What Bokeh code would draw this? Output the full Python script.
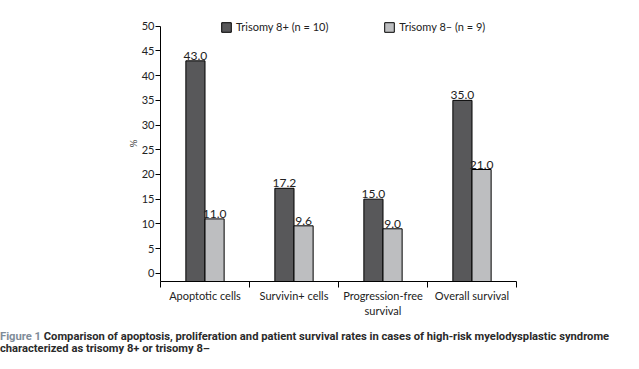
from bokeh.plotting import figure
from bokeh.models import (ColumnDataSource, FixedTicker, Legend, LegendItem, Div,
                          Range1d)
from bokeh.layouts import column
from bokeh.core.properties import value
from bokeh.embed import file_html
from bokeh.resources import INLINE

# ---- data ----
categories = ["Apoptotic cells", "Survivin+ cells", "Progression-free\nsurvival", "Overall survival"]
trisomy_pos = [43.0, 17.2, 15.0, 35.0]
trisomy_neg = [11.0, 9.6, 9.0, 21.0]
series_labels = ["Trisomy 8+ (n = 10)", "Trisomy 8\u2013 (n = 9)"]
y_ticks = [0, 5, 10, 15, 20, 25, 30, 35, 40, 45, 50]
caption_label = "Figure 1"
caption_lines = ["Comparison of apoptosis, proliferation and patient survival rates in cases of high-risk myelodysplastic syndrome",
                 "characterized as trisomy 8+ or trisomy 8\u2013"]

Y_MIN = -1.67
Y_AXIS_MAX = 50
Y_MAX = 54.2
BAR_W = 0.215
FONT = "Lato"
CAP_FONT = "Roboto"
DARK = "#58585a"
LIGHT = "#bdbec0"

n = len(categories)
centers = [i + 0.5 for i in range(n)]
src = ColumnDataSource(dict(
    xp=[c - BAR_W / 2 for c in centers],
    xn=[c + BAR_W / 2 for c in centers],
    pos=trisomy_pos, neg=trisomy_neg,
    pos_lbl=[f"{v:.1f}" for v in trisomy_pos],
    neg_lbl=[f"{v:.1f}" for v in trisomy_neg],
))

p = figure(width=623, height=329, output_backend="svg", toolbar_location=None,
           x_range=Range1d(0, n), y_range=Range1d(Y_MIN, Y_MAX),
           min_border_left=160, min_border_right=107, min_border_top=5,
           min_border_bottom=48)
p.outline_line_color = None
p.grid.grid_line_color = None
p.background_fill_color = "white"

r1 = p.vbar(x="xp", top="pos", bottom=Y_MIN, width=BAR_W, source=src,
            fill_color=DARK, line_color="black", line_width=1)
r2 = p.vbar(x="xn", top="neg", bottom=Y_MIN, width=BAR_W, source=src,
            fill_color=LIGHT, line_color="black", line_width=1)

p.text(x="xp", y="pos", text="pos_lbl", source=src, text_align="center",
       text_baseline="bottom", y_offset=-1, text_font=value(FONT),
       text_font_size="12px", text_color="#222222")
p.text(x="xn", y="neg", text="neg_lbl", source=src, text_align="center",
       text_baseline="bottom", y_offset=-1, text_font=value(FONT),
       text_font_size="12px", text_color="#222222")

# x axis: labels at centres, tick marks at boundaries
xa = p.xaxis[0]
xa.ticker = FixedTicker(ticks=centers, minor_ticks=list(range(n + 1)))
xa.major_label_overrides = {c: lab for c, lab in zip(centers, categories)}
xa.major_tick_line_color = None
xa.minor_tick_out = 6
xa.minor_tick_in = 0
xa.minor_tick_line_color = "black"
xa.axis_line_color = "black"
xa.major_label_text_font = FONT
xa.major_label_text_font_size = "11px"
xa.major_label_text_color = "#222222"
xa.major_label_standoff = 1

ya = p.yaxis[0]
ya.ticker = FixedTicker(ticks=y_ticks)
ya.bounds = (Y_MIN, Y_AXIS_MAX)
ya.minor_tick_line_color = None
ya.major_tick_out = 5
ya.major_tick_in = 0
ya.major_label_standoff = 1
ya.major_label_text_font = FONT
ya.major_label_text_font_size = "11px"
ya.major_label_text_color = "#222222"
ya.axis_label = "%"
ya.axis_label_text_font = FONT
ya.axis_label_text_font_style = "normal"
ya.axis_label_text_font_size = "10px"
ya.axis_label_standoff = 0

legend = Legend(items=[LegendItem(label=series_labels[0], renderers=[r1]),
                       LegendItem(label=series_labels[1], renderers=[r2])],
                orientation="horizontal", location=(60, 248),
                border_line_color=None, background_fill_alpha=0,
                padding=0, margin=0, spacing=55,
                glyph_width=12, glyph_height=12, label_height=12,
                label_standoff=4,
                label_text_font=FONT, label_text_font_size="11px",
                label_text_color="#222222")
p.add_layout(legend, "center")

cap_html = (
    '<div style="margin:2px 0 0 0; white-space:nowrap; line-height:12px; '
    f'font-family:{CAP_FONT}; font-size:11.2px; font-weight:bold; color:#2a2a2a;">'
    f'<span style="color:#7f8c99;">{caption_label}</span> {caption_lines[0]}<br>'
    f'{caption_lines[1]}</div>'
)
cap = Div(text=cap_html, width=623, height=24, margin=(0, 0, 0, 0))

layout = column(p, cap, spacing=0)
open("out.html", "w").write(file_html(layout, INLINE))
